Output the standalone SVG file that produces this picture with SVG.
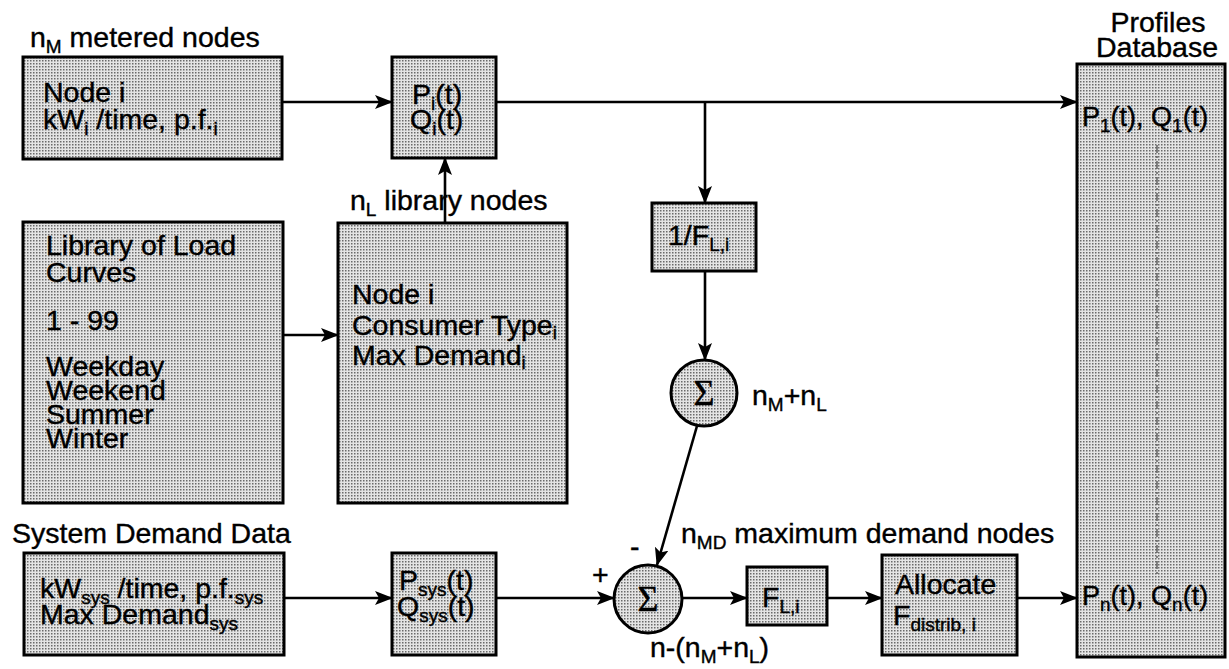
<svg xmlns="http://www.w3.org/2000/svg" width="1229" height="669" viewBox="0 0 1229 669">
<defs>
<pattern id="dots" width="3" height="3" patternUnits="userSpaceOnUse">
<rect width="3" height="3" fill="#e4e4e4"/>
<rect width="1.5" height="1.5" fill="#6a6a6a"/>
</pattern>
<marker id="arr" markerWidth="18" markerHeight="14" refX="17" refY="7" orient="auto" markerUnits="userSpaceOnUse">
<path d="M0,0 L18,7 L0,14 L4,7 Z" fill="#000"/>
</marker>
</defs>
<style>
.box{fill:url(#dots);stroke:#000;stroke-width:3}
.t{font-family:"Liberation Sans",Arial,sans-serif;font-size:28.5px;fill:#000;stroke:#000;stroke-width:0.4}
.s{font-size:19px}
.sig{font-family:"Liberation Serif","Times New Roman",serif;font-size:36px;fill:#000;stroke:#000;stroke-width:0.5}
.c{fill:none;stroke:#000;stroke-width:2.6}
.dd{fill:none;stroke:#444;stroke-width:1.2;stroke-dasharray:8 3 2 3}
</style>
<rect width="1229" height="669" fill="#fff"/>

<g id="label-metered"><text class="t" x="30" y="47">n<tspan class="s" dy="6">M</tspan><tspan dy="-6"> metered nodes</tspan></text></g>
<g id="node-metered">
<rect class="box" x="23" y="57" width="259" height="102"/>
<text class="t" x="43" y="102">Node i</text>
<text class="t" x="43" y="129">kW<tspan class="s" dy="6">i</tspan><tspan dy="-6"> /time, p.f.</tspan><tspan class="s" dy="6">i</tspan></text>
</g>
<g id="node-PQi">
<rect class="box" x="392" y="57" width="104" height="101"/>
<text class="t" x="412" y="104">P<tspan class="s" dy="6">i</tspan><tspan dy="-6">(t)</tspan></text>
<text class="t" x="410" y="129">Q<tspan class="s" dy="6">i</tspan><tspan dy="-6">(t)</tspan></text>
</g>
<g id="label-profiles">
<text class="t" x="1158" y="32" text-anchor="middle">Profiles</text>
<text class="t" x="1157" y="57" text-anchor="middle">Database</text>
</g>
<g id="node-database">
<rect class="box" x="1077" y="64" width="148" height="593"/>
<line class="dd" x1="1157" y1="145" x2="1157" y2="576"/>
<text class="t" x="1082" y="126" style="font-size:27px">P<tspan class="s" dy="6">1</tspan><tspan dy="-6">(t),  Q</tspan><tspan class="s" dy="6">1</tspan><tspan dy="-6">(t)</tspan></text>
<text class="t" x="1082" y="605" style="font-size:27px">P<tspan class="s" dy="6">n</tspan><tspan dy="-6">(t),  Q</tspan><tspan class="s" dy="6">n</tspan><tspan dy="-6">(t)</tspan></text>
</g>
<g id="node-library">
<rect class="box" x="23" y="222" width="260" height="281"/>
<text class="t" x="46" y="255">Library of Load</text>
<text class="t" x="46" y="282">Curves</text>
<text class="t" x="46" y="330">1 - 99</text>
<text class="t" x="46" y="376">Weekday</text>
<text class="t" x="46" y="400">Weekend</text>
<text class="t" x="46" y="424">Summer</text>
<text class="t" x="46" y="448">Winter</text>
</g>
<g id="label-library-nodes"><text class="t" x="350" y="210">n<tspan class="s" dy="6">L</tspan><tspan dy="-6"> library nodes</tspan></text></g>
<g id="node-library-nodes">
<rect class="box" x="338" y="223" width="229" height="280"/>
<text class="t" x="352" y="304">Node i</text>
<text class="t" x="352" y="335">Consumer Type<tspan class="s" dy="4">i</tspan></text>
<text class="t" x="352" y="365">Max Demand<tspan class="s" dy="4">i</tspan></text>
</g>
<g id="node-invF">
<rect class="box" x="652" y="203" width="104" height="68"/>
<text class="t" x="668" y="245">1/F<tspan class="s" dy="6">L,i</tspan></text>
</g>
<g id="node-sum1">
<circle class="box" cx="704" cy="393" r="33"/>
<text class="sig" x="704" y="405" text-anchor="middle">Σ</text>
<text class="t" x="752" y="405">n<tspan class="s" dy="6">M</tspan><tspan dy="-6">+n</tspan><tspan class="s" dy="6">L</tspan></text>
</g>
<g id="label-system"><text class="t" x="12" y="543">System Demand Data</text></g>
<g id="node-system">
<rect class="box" x="24" y="553" width="260" height="102"/>
<text class="t" x="40" y="598">kW<tspan class="s" dy="6">sys</tspan><tspan dy="-6"> /time, p.f.</tspan><tspan class="s" dy="6">sys</tspan></text>
<text class="t" x="40" y="624">Max Demand<tspan class="s" dy="6">sys</tspan></text>
</g>
<g id="node-PQsys">
<rect class="box" x="392" y="553" width="104" height="102"/>
<text class="t" x="399" y="590">P<tspan class="s" dy="6">sys</tspan><tspan dy="-6">(t)</tspan></text>
<text class="t" x="397" y="616">Q<tspan class="s" dy="6">sys</tspan><tspan dy="-6">(t)</tspan></text>
</g>
<g id="node-sum2">
<circle class="box" cx="648" cy="599" r="34"/>
<text class="sig" x="648" y="611" text-anchor="middle">Σ</text>
<text class="t" x="630" y="556">-</text>
<text class="t" x="592" y="584">+</text>
<text class="t" x="650" y="657">n-(n<tspan class="s" dy="6">M</tspan><tspan dy="-6">+n</tspan><tspan class="s" dy="6">L</tspan><tspan dy="-6">)</tspan></text>
</g>
<g id="label-maxdemand"><text class="t" x="681" y="543">n<tspan class="s" dy="6">MD</tspan><tspan dy="-6">  maximum demand nodes</tspan></text></g>
<g id="node-FL">
<rect class="box" x="747" y="567" width="80" height="58"/>
<text class="t" x="762" y="607">F<tspan class="s" dy="6">L,i</tspan></text>
</g>
<g id="node-allocate">
<rect class="box" x="882" y="555" width="135" height="100"/>
<text class="t" x="895" y="594">Allocate</text>
<text class="t" x="893" y="625">F<tspan class="s" dy="6">distrib, i</tspan></text>
</g>

<g id="connectors">
<path class="c" d="M282,102 H392" marker-end="url(#arr)"/>
<path class="c" d="M496,102 H1077" marker-end="url(#arr)"/>
<path class="c" d="M705,102 V203" marker-end="url(#arr)"/>
<path class="c" d="M705,271 V360" marker-end="url(#arr)"/>
<path class="c" d="M445,223 V158" marker-end="url(#arr)"/>
<path class="c" d="M283,335 H338" marker-end="url(#arr)"/>
<path class="c" d="M697,426 L657,565" marker-end="url(#arr)"/>
<path class="c" d="M284,598 H392" marker-end="url(#arr)"/>
<path class="c" d="M496,598 H614" marker-end="url(#arr)"/>
<path class="c" d="M682,598 H747" marker-end="url(#arr)"/>
<path class="c" d="M827,598 H882" marker-end="url(#arr)"/>
<path class="c" d="M1017,598 H1077" marker-end="url(#arr)"/>
</g>
</svg>
